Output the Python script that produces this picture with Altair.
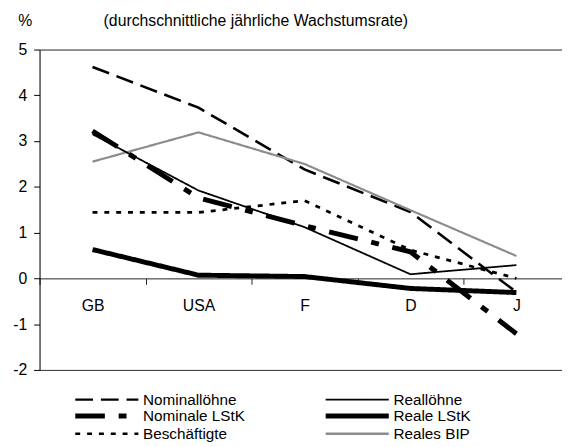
import altair as alt
import pandas as pd

countries = ["GB", "USA", "F", "D", "J"]
series_names = ["Nominallöhne", "Nominale LStK", "Beschäftigte", "Reallöhne", "Reale LStK", "Reales BIP"]

nominalloehne = [4.62, 3.73, 2.38, 1.45, -0.30]
nominale_lstk = [3.22, 1.76, 1.15, 0.58, -1.21]
beschaeftigte = [1.44, 1.44, 1.70, 0.62, 0.00]
realloehne = [3.15, 1.92, 1.12, 0.09, 0.29]
reale_lstk = [0.63, 0.07, 0.04, -0.22, -0.31]
reales_bip = [2.55, 3.19, 2.50, 1.49, 0.49]

values = [nominalloehne, nominale_lstk, beschaeftigte, realloehne, reale_lstk, reales_bip]

rows = []
for name, vals in zip(series_names, values):
    for c, v in zip(countries, vals):
        rows.append({"series": name, "country": c, "value": v})
df = pd.DataFrame(rows)

FONT = "Liberation Sans"
FS = 16
LFS = 15.5

colors = ["#000000", "#000000", "#000000", "#000000", "#000000", "#8c8c8c"]
dashes = [[18, 8], [30, 14, 8, 14], [5, 7], [1, 0], [1, 0], [1, 0]]
widths = {"Nominallöhne": 2.6, "Reallöhne": 1.8, "Nominale LStK": 5, "Reale LStK": 5,
          "Beschäftigte": 2.8, "Reales BIP": 2.2}
draw_order = ["Nominallöhne", "Beschäftigte", "Reales BIP", "Nominale LStK", "Reallöhne", "Reale LStK"]

x_enc = alt.X(
    "country:N", sort=countries, bandPosition=0.5,
    scale=alt.Scale(type="band", range=[0, 537.5], paddingInner=0, paddingOuter=0),
    axis=alt.Axis(title=None, offset=-92.86, tickBand="extent", labelAngle=0,
                  domainColor="#222222", tickColor="#222222", tickSize=6,
                  labelFont=FONT, labelFontSize=FS, labelColor="#000000", labelPadding=14,
                  grid=False),
)
y_enc = alt.Y(
    "value:Q",
    scale=alt.Scale(domain=[-2, 5], nice=False, zero=False),
    axis=alt.Axis(values=[-2, -1, 0, 1, 2, 3, 4, 5], labelExpr="'' + datum.value",
                  title="%", titleAngle=0,
                  titleX=-15, titleY=-24, titleAlign="center", titleBaseline="alphabetic",
                  titleFont=FONT, titleFontSize=FS, titleFontWeight="normal", titleColor="#000000",
                  labelFont=FONT, labelFontSize=FS, labelColor="#000000", labelPadding=7,
                  domainColor="#000000", tickColor="#000000", tickSize=6,
                  grid=True, gridColor="#333333",
                  gridOpacity=alt.condition("datum.value == 5 || datum.value == -2",
                                            alt.value(1), alt.value(0))),
)

legend = alt.Legend(
    orient="none", legendX=60.5, legendY=347, columns=2, title=None,
    symbolType="stroke", symbolSize=4096, labelFont=FONT, labelFontSize=LFS,
    labelColor="#000000", labelOffset=29, columnPadding=71, rowPadding=-5.5,
    symbolStrokeWidth=alt.expr(
        "datum.value == 'Nominale LStK' || datum.value == 'Reale LStK' ? 5 : (datum.value == 'Reallöhne' ? 1.8 : 2.5)"),
)

color_enc = alt.Color("series:N", scale=alt.Scale(domain=series_names, range=colors), legend=legend)
dash_enc = alt.StrokeDash("series:N", scale=alt.Scale(domain=series_names, range=dashes), legend=legend)

layers = []
for name in draw_order:
    layers.append(
        alt.Chart(df).transform_filter(alt.datum.series == name)
        .mark_line(strokeWidth=widths[name], strokeCap="butt", strokeJoin="miter")
        .encode(x=x_enc, y=y_enc, color=color_enc, strokeDash=dash_enc)
    )

chart = alt.layer(*layers).properties(
    width=530, height=325,
    title=alt.TitleParams(text="(durchschnittliche jährliche Wachstumsrate)", anchor="start",
                          frame="group", dx=65, offset=-16, font=FONT, fontSize=FS,
                          fontWeight="normal", color="#000000"),
    autosize=alt.AutoSizeParams(type="none"),
    padding={"left": 32, "top": 39, "right": 0, "bottom": 71},
).configure_view(stroke=None).configure(background="white")

chart.save("out.html", embed_options={"renderer": "svg", "actions": False})
